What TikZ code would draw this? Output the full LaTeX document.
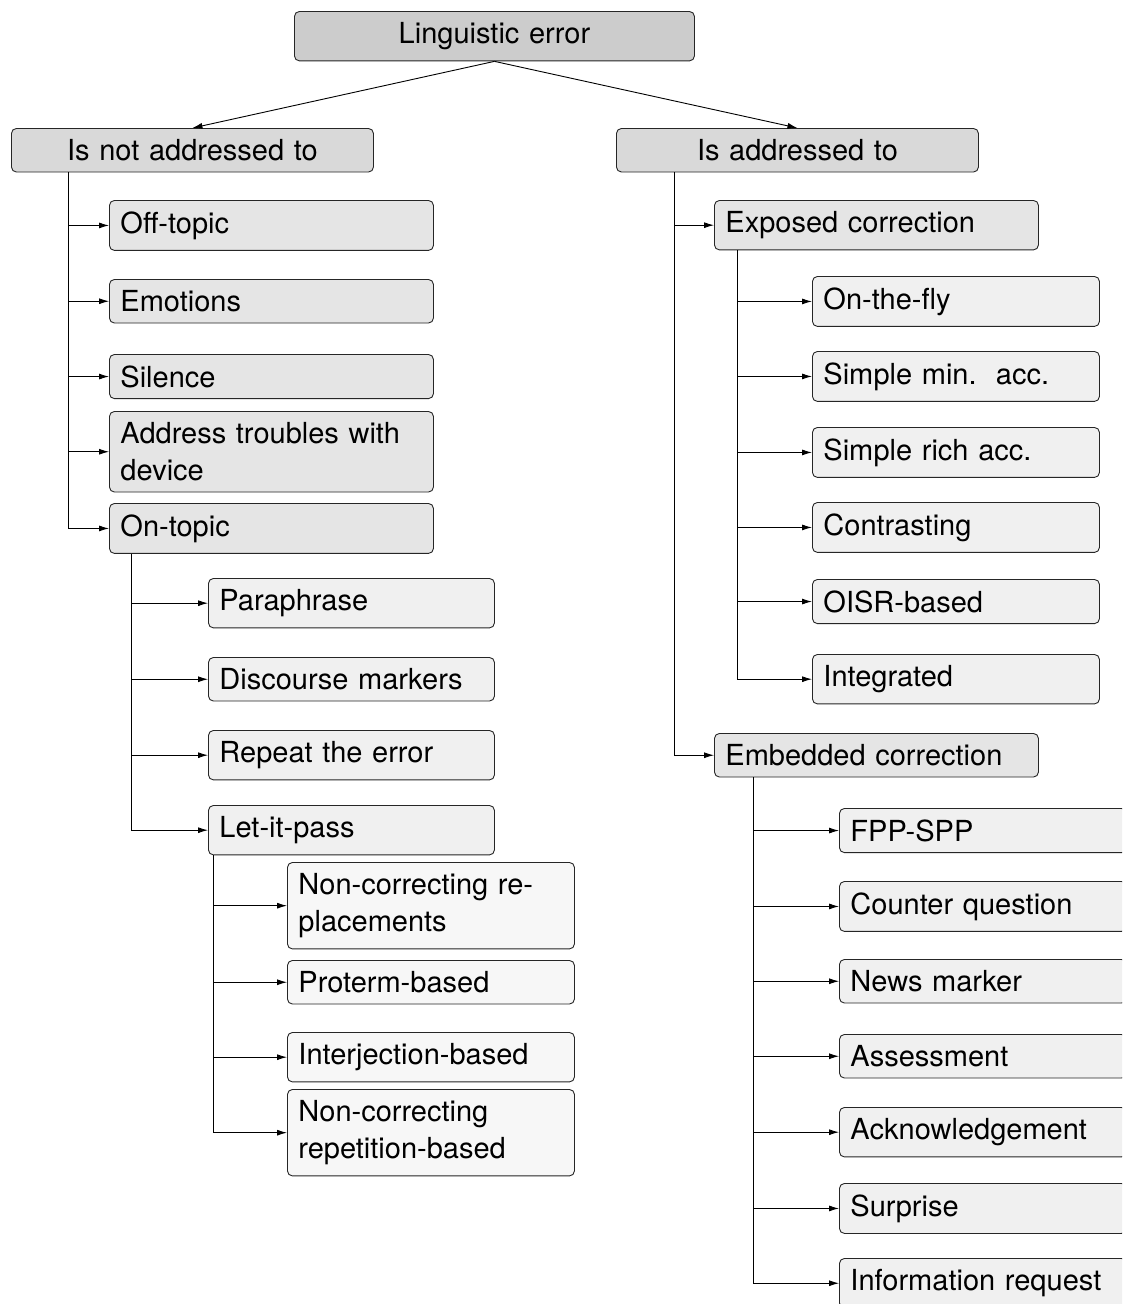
\documentclass[tikz,border=0pt]{standalone}
\usepackage{fontspec}
\setmainfont{TeX Gyre Heros}
\usetikzlibrary{arrows.meta,calc}

\definecolor{fillA}{gray}{0.80}
\definecolor{fillB}{gray}{0.85}
\definecolor{fillC}{gray}{0.90}
\definecolor{fillD}{gray}{0.94}
\definecolor{fillE}{gray}{0.97}

\tikzset{
  box/.style={draw=black!85, line width=0.9pt, rounded corners=5pt,
    anchor=north west, inner xsep=11pt, inner ysep=11pt,
    font=\fontsize{29}{37}\selectfont},
  leftbox/.style={box, align=left, text width=#1},
  centerbox/.style={box, align=center, text width=#1},
  rootbox/.style={centerbox=378pt, fill=fillA},
  topbox/.style={centerbox=340pt, fill=fillB},
  midbox/.style={leftbox=302pt, fill=fillC},
  subbox/.style={leftbox=264pt, fill=fillD},
  deepbox/.style={leftbox=265pt, fill=fillE},
  rsubbox/.style={leftbox=265pt, fill=fillD},
  link/.style={draw=black, line width=0.9pt, -{Latex[length=10pt,width=6pt]}}
}

\begin{document}
\begin{tikzpicture}[x=1pt, y=-1pt]
\clip (0,0) rectangle (1122,1304);
\fill[white] (0,0) rectangle (1122,1304);

% root and the two main branches
\node[rootbox] (root) at (294,11) {Linguistic error};
\node[topbox] (notaddr) at (11,128) {Is not addressed to};
\node[topbox] (addr) at (616,128) {Is addressed to};

% branch: is not addressed to
\node[midbox] (offtopic) at (109,200) {Off-topic};
\node[midbox] (emotions) at (109,279) {Emotions};
\node[midbox] (silence) at (109,354) {Silence};
\node[midbox] (device) at (109,411) {Address troubles with\\device};
\node[midbox] (ontopic) at (109,503) {On-topic};

\node[subbox] (paraphrase) at (208,578) {Paraphrase};
\node[subbox] (discourse) at (208,657) {Discourse markers};
\node[subbox] (repeat) at (208,730) {Repeat the error};
\node[subbox] (letpass) at (208,805) {Let-it-pass};

\node[deepbox] (ncrepl) at (287,862) {Non-correcting re-\\placements};
\node[deepbox] (proterm) at (287,960) {Proterm-based};
\node[deepbox] (interj) at (287,1032) {Interjection-based};
\node[deepbox] (ncrep) at (287,1089) {Non-correcting\\repetition-based};

% branch: is addressed to
\node[midbox] (exposed) at (714,200) {Exposed correction};
\node[rsubbox] (onthefly) at (812,276) {On-the-fly};
\node[rsubbox] (simplemin) at (812,351) {Simple min.\ \ acc.};
\node[rsubbox] (simplerich) at (812,427) {Simple rich acc.};
\node[rsubbox] (contrast) at (812,502) {Contrasting};
\node[rsubbox] (oisr) at (812,579) {OISR-based};
\node[rsubbox] (integrated) at (812,654) {Integrated};

\node[midbox] (embedded) at (714,733) {Embedded correction};
\node[rsubbox] (fppspp) at (839,808) {FPP-SPP};
\node[rsubbox] (counter) at (839,881) {Counter question};
\node[rsubbox] (news) at (839,959) {News marker};
\node[rsubbox] (assess) at (839,1034) {Assessment};
\node[rsubbox] (ack) at (839,1107) {Acknowledgement};
\node[rsubbox] (surprise) at (839,1183) {Surprise};
\node[rsubbox] (inforeq) at (839,1258) {Information request};

% connectors
\draw[link] (root.south) -- (notaddr.north);
\draw[link] (root.south) -- (addr.north);

\foreach \c in {offtopic,emotions,silence,device,ontopic}
  \draw[link] ([xshift=57pt]notaddr.south west) |- (\c.west);
\foreach \c in {paraphrase,discourse,repeat,letpass}
  \draw[link] ([xshift=22pt]ontopic.south west) |- (\c.west);
\foreach \c in {ncrepl,proterm,interj,ncrep}
  \draw[link] ([xshift=5pt]letpass.south west) |- (\c.west);

\foreach \c in {exposed,embedded}
  \draw[link] ([xshift=58pt]addr.south west) |- (\c.west);
\foreach \c in {onthefly,simplemin,simplerich,contrast,oisr,integrated}
  \draw[link] ([xshift=23pt]exposed.south west) |- (\c.west);
\foreach \c in {fppspp,counter,news,assess,ack,surprise,inforeq}
  \draw[link] ([xshift=39pt]embedded.south west) |- (\c.west);
\end{tikzpicture}
\end{document}
